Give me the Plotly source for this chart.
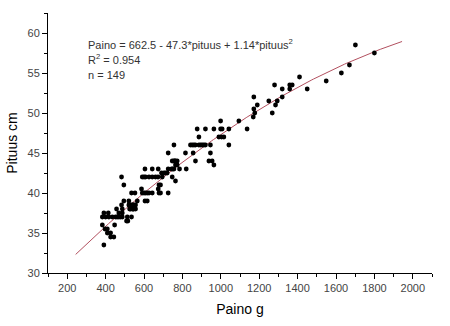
import numpy as np
import plotly.graph_objects as go

# Weight (g) and length (cm) of each measured individual
paino = [
    391, 426, 443, 409, 426, 397, 409, 383, 447,
    383, 400, 417, 435, 452, 469, 487,
    391, 414, 469, 487,
    509, 516, 535, 513,
    457, 487, 530, 539, 547, 556,
    483, 521, 530, 538, 547, 556,
    495, 521, 565, 605, 617,
    535, 553, 591, 608, 626, 643, 678, 686, 726,
    587, 674,
    495, 678, 686,
    764,
    483, 591, 608, 626, 643, 660, 673, 695, 747,
    691, 704, 712, 721,
    605, 643, 674, 726, 744, 756, 785, 820,
    764, 773, 964,
    747, 756, 764, 773, 868, 938, 955,
    726, 816, 856, 946,
    756, 842, 851, 868, 886, 903, 912, 920, 946, 1042,
    886, 990, 1004, 1016,
    877, 920, 964, 999, 1007, 1042, 1137,
    999, 1094,
    1169, 1177, 1172, 1190, 1172, 1250, 1268, 1285, 1294, 1320, 1320,
    1359, 1280, 1359, 1372, 1410, 1450, 1549, 1628, 1670, 1701, 1800,
    525, 543, 525, 543, 460, 478, 600, 617, 600, 760, 860, 895, 750,
]
pituus = [
    33.5, 34.5, 34.5, 35, 35, 35.5, 35.5, 36, 36,
    37, 37, 37, 37, 37, 37, 37,
    37.5, 37.5, 37.5, 37.5,
    36.5, 36.5, 37, 37,
    38, 38, 38, 38, 38, 38,
    38.5, 38.5, 38.5, 38.5, 38.5, 38.5,
    39, 39, 39, 39, 39,
    40, 40, 40, 40, 40, 40, 40, 40, 40,
    40.5, 40.5,
    41, 41, 41,
    41.5,
    42, 42, 42, 42, 42, 42, 42, 42, 42,
    42.5, 42.5, 42.5, 42.5,
    43, 43, 43, 43, 43, 43, 43, 43,
    43.5, 43.5, 43.5,
    44, 44, 44, 44, 44, 44, 44,
    45, 45, 45, 45,
    46, 46, 46, 46, 46, 46, 46, 46, 46, 46,
    47, 47, 47, 47,
    48, 48, 48, 48, 48, 48, 48,
    49, 49,
    49.5, 50, 50.5, 51, 52, 51.5, 50, 51, 51.5, 52, 53,
    53, 53.5, 53.5, 53.5, 54.5, 53, 54, 55, 56, 58.5, 57.5,
    38, 38, 38.5, 38.5, 37, 37, 40, 40, 42, 44, 46, 46, 43,
]

# Fitted curve: pituus = c0 + c1*paino + c2*paino^2
fit_coef = [26.4, 0.02534, -4.425e-6]
fit_range = [244, 1944]

x_fit = np.linspace(fit_range[0], fit_range[1], 200)
y_fit = fit_coef[0] + fit_coef[1] * x_fit + fit_coef[2] * x_fit ** 2

x_ticks = list(range(200, 2001, 200))
y_ticks = list(range(30, 61, 5))

fig = go.Figure()
fig.add_trace(go.Scatter(
    x=x_fit, y=y_fit, mode="lines",
    line=dict(color="#b2505f", width=1), hoverinfo="skip",
))
fig.add_trace(go.Scatter(
    x=paino, y=pituus, mode="markers",
    marker=dict(color="black", size=4.8, line=dict(width=0)),
))

tick_font = dict(family="Liberation Sans, Arial, sans-serif", size=11, color="#444444")
title_font = dict(family="Liberation Sans, Arial, sans-serif", size=14, color="black")

fig.update_layout(
    width=450, height=326,
    margin=dict(l=46, r=18, t=13, b=49),
    paper_bgcolor="white", plot_bgcolor="white",
    showlegend=False,
    xaxis=dict(
        range=[100, 2100], tickvals=x_ticks, showgrid=False, zeroline=False,
        showline=True, linecolor="black", linewidth=1,
        ticks="outside", ticklen=5, tickcolor="black", tickwidth=1,
        tickfont=tick_font,
        minor=dict(dtick=100, tick0=100, ticks="outside", ticklen=3, tickcolor="black", showgrid=False),
        title=dict(text="Paino g", font=title_font, standoff=10),
    ),
    yaxis=dict(
        range=[30, 62.5], tickvals=y_ticks, showgrid=False, zeroline=False,
        showline=True, linecolor="black", linewidth=1,
        ticks="outside", ticklen=5, tickcolor="black", tickwidth=1,
        tickfont=tick_font,
        minor=dict(dtick=2.5, tick0=30, ticks="outside", ticklen=3, tickcolor="black", showgrid=False),
        title=dict(text="Pituus cm", font=title_font, standoff=6),
    ),
)

label_font = dict(family="Liberation Sans, Arial, sans-serif", size=11, color="#333333")
labels = [
    "Paino = 662.5 - 47.3*pituus + 1.14*pituus<sup>2</sup>",
    "R<sup>2</sup> = 0.954",
    "n = 149",
]
for i, txt in enumerate(labels):
    fig.add_annotation(
        x=84, y=44 + 16 * i, xref="paper", yref="paper", text=txt,
        showarrow=False, xanchor="left", yanchor="middle", font=label_font,
    )
# convert pixel positions to paper coordinates of the plot area
for ann in fig.layout.annotations:
    ann.x = (ann.x - 46) / (450 - 46 - 18)
    ann.y = 1 - (ann.y - 13) / (326 - 13 - 49)

fig.write_html("out.html")
